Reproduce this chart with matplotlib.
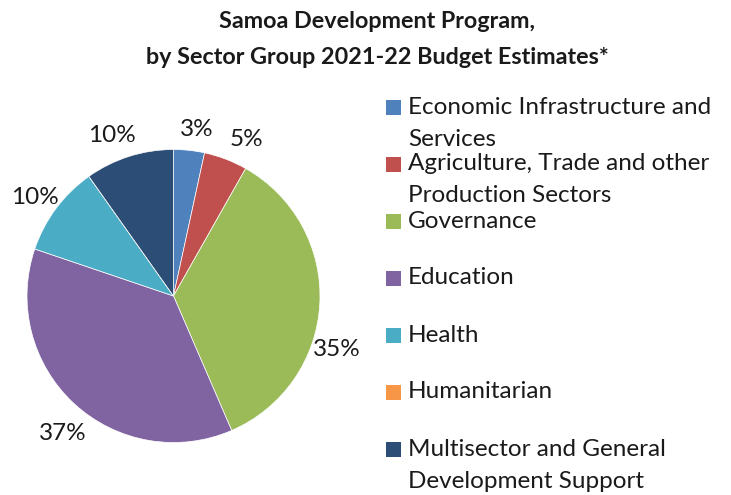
import numpy as np
import matplotlib.pyplot as plt
from matplotlib.patches import Rectangle

plt.rcParams['font.family'] = ['Lato', 'DejaVu Sans']

# sector groups, budget share (%)
sectors = ["Economic Infrastructure and\nServices",
           "Agriculture, Trade and other\nProduction Sectors",
           "Governance",
           "Education",
           "Health",
           "Humanitarian",
           "Multisector and General\nDevelopment Support"]
shares = [3.4, 4.8, 35.3, 36.7, 10.0, 0.0, 9.8]
colors = ['#4F81BD', '#C0504D', '#9BBB59', '#8064A2', '#4BACC6', '#F79646', '#2C4D75']

W, H = 731, 495
fig = plt.figure(figsize=(W/100, H/100), dpi=100)

# pie centre ~ (173.5, 296) px, radius ~146.5 px
cx, cy, r = 173.5, 296, 146.5
ax = fig.add_axes([(cx-r)/W, (H-cy-r)/H, 2*r/W, 2*r/H])

def pct(p):
    return '' if p < 0.5 else '%.0f%%' % p

wedges, texts, autotexts = ax.pie(shares, colors=colors, startangle=90, counterclock=False,
                                  autopct=pct, pctdistance=1.18, radius=1,
                                  wedgeprops=dict(edgecolor='white', linewidth=0.5),
                                  textprops=dict(fontsize=17.5, color='#1a1a1a'))
ax.set_xlim(-1, 1)
ax.set_ylim(-1, 1)
ax.set_aspect('equal')
ax.axis('off')

# Excel "best fit" label spots (pixel centres), not always at the wedge middle
label_px = [(197, 130), (246, 140), (337, 350), (63, 433), (35, 198), None, (112, 135)]
for t, p in zip(autotexts, label_px):
    if p is not None:
        t.set_position(((p[0]-cx)/r, (cy-p[1])/r))
        t.set_ha('center')
        t.set_va('center')

fig.text(377/W, 1-22/H, "Samoa Development Program,", ha='center', va='center',
         fontsize=16.8, fontweight='bold', color='#1a1a1a')
fig.text(377/W, 1-57/H, "by Sector Group 2021-22 Budget Estimates*", ha='center', va='center',
         fontsize=16.8, fontweight='bold', color='#1a1a1a')

# legend drawn by hand, Excel style
for i, (lab, col) in enumerate(zip(sectors, colors)):
    y = 107 + 57*i
    fig.patches.append(Rectangle((386/W, 1-(y+7.5)/H), 15/W, 15/H, transform=fig.transFigure,
                                 facecolor=col, edgecolor='none'))
    for j, line in enumerate(lab.split('\n')):
        fig.text(408/W, 1-(y+32*j)/H, line, ha='left', va='center', fontsize=17.5, color='#1a1a1a')

fig.savefig('out.png', dpi=100, facecolor='white')
